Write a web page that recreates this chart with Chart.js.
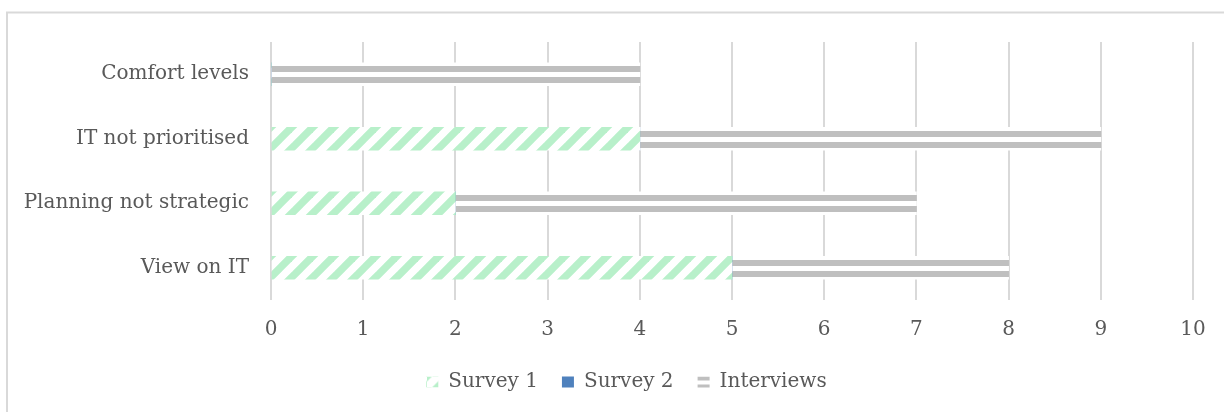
<!DOCTYPE html>
<html><head><meta charset="utf-8">
<script src="https://cdn.jsdelivr.net/npm/chart.js@4.4.1/dist/chart.umd.min.js"></script>
<style>html,body{margin:0;padding:0;background:#fff;}canvas{display:block}</style>
</head><body>
<canvas id="c" width="1224" height="412"></canvas>
<script>
const categories = ['Comfort levels', 'IT not prioritised', 'Planning not strategic', 'View on IT'];
const survey1 = [0, 4, 2, 5];
const survey2 = [0, 0, 0, 0];
const interviews = [4, 5, 5, 3];
const seriesNames = ['Survey 1', 'Survey 2', 'Interviews'];
const xMin = 0, xMax = 10, xStep = 1;

const GREEN = '#b8f0ca', BLUE = '#4f81bd', GRAY = '#bfbfbf', TEXT = '#595959', GRID = '#d9d9d9';
const FONT = {family: '"DejaVu Serif", serif', size: 20};

function makeTile(w, h, draw) {
  const c = document.createElement('canvas'); c.width = w; c.height = h;
  const g = c.getContext('2d'); draw(g, w, h); return c;
}
const hatchTile = makeTile(21, 21, (g, w, h) => {
  g.fillStyle = '#fff'; g.fillRect(0, 0, w, h);
  g.strokeStyle = GREEN; g.lineWidth = 7.5;
  for (let k = -1; k <= 1; k++) { g.beginPath(); g.moveTo(k * w - 5, h + 5); g.lineTo(k * w + w + 5, -5); g.stroke(); }
});
const stripeTile = makeTile(4, 11, (g, w, h) => {
  g.fillStyle = '#fff'; g.fillRect(0, 0, w, h);
  g.fillStyle = GRAY; g.fillRect(0, 0, w, 6);
});
const legendStripeTile = makeTile(4, 8, (g, w, h) => {
  g.fillStyle = '#fff'; g.fillRect(0, 0, w, h);
  g.fillStyle = GRAY; g.fillRect(0, 0, w, 4);
});
const legendHatchTile = makeTile(12, 11, (g, w, h) => {
  g.fillStyle = '#fff'; g.fillRect(0, 0, w, h);
  g.fillStyle = GREEN;
  g.beginPath(); g.moveTo(0, 0); g.lineTo(5, 0); g.lineTo(0, 5); g.closePath(); g.fill();
  g.beginPath(); g.moveTo(w, h); g.lineTo(w - 7, h); g.lineTo(w, h - 7); g.closePath(); g.fill();
});

function barPattern(tile, dy) {
  return (ctx) => {
    const chart = ctx.chart;
    const p = chart.ctx.createPattern(tile, 'repeat');
    const ys = chart.scales.y, xs = chart.scales.x;
    if (ys && xs && ctx.dataIndex != null) {
      const c = ys.getPixelForValue(ctx.dataIndex);
      p.setTransform(new DOMMatrix().translate(xs.left, Math.round(c + dy)));
    }
    return p;
  };
}

const bgPlugin = {
  id: 'bg',
  afterLayout(chart) {
    if (chart.legend) { chart.legend.left += 60; }
  },
  beforeDraw(chart) {
    const g = chart.ctx;
    g.save();
    g.fillStyle = '#fff'; g.fillRect(0, 0, chart.width, chart.height);
    g.strokeStyle = GRID; g.lineWidth = 2;
    g.strokeRect(7, 12.5, 1400, 600);
    g.restore();
  }
};

const ctx = document.getElementById('c').getContext('2d');
new Chart(ctx, {
  type: 'bar',
  data: {
    labels: categories,
    datasets: [
      {label: seriesNames[0], data: survey1, backgroundColor: barPattern(hatchTile, -11.5)},
      {label: seriesNames[1], data: survey2, backgroundColor: BLUE},
      {label: seriesNames[2], data: interviews, backgroundColor: barPattern(stripeTile, -8)}
    ]
  },
  options: {
    indexAxis: 'y',
    responsive: false,
    animation: false,
    events: [],
    devicePixelRatio: 1,
    datasets: {bar: {barThickness: 23, borderWidth: 0}},
    layout: {padding: {top: 42, right: 31, left: 0, bottom: 10}},
    scales: {
      x: {
        stacked: true, min: xMin, max: xMax,
        ticks: {stepSize: xStep, color: TEXT, font: FONT, padding: 18},
        grid: {color: GRID, lineWidth: 2, drawTicks: false},
        border: {display: false},
        afterFit(s) { s.height = 48; }
      },
      y: {
        stacked: true,
        ticks: {color: TEXT, font: FONT, padding: 14},
        grid: {display: false},
        border: {display: false},
        afterFit(s) { s.width = 271; }
      }
    },
    plugins: {
      tooltip: {enabled: false},
      legend: {
        position: 'bottom',
        labels: {
          boxWidth: 12, boxHeight: 11, padding: 24, color: TEXT, font: FONT,
          generateLabels(chart) {
            const c = chart.ctx;
            const h = c.createPattern(legendHatchTile, 'repeat');
            h.setTransform(new DOMMatrix().translate(427, 376.5));
            const s = c.createPattern(legendStripeTile, 'repeat');
            s.setTransform(new DOMMatrix().translate(0, 376.5));
            const fills = [h, BLUE, s];
            return seriesNames.map((n, i) => ({
              text: n, fillStyle: fills[i], strokeStyle: 'rgba(0,0,0,0)', lineWidth: 0,
              hidden: false, datasetIndex: i, fontColor: TEXT
            }));
          }
        }
      }
    }
  },
  plugins: [bgPlugin]
});
</script>
</body></html>
